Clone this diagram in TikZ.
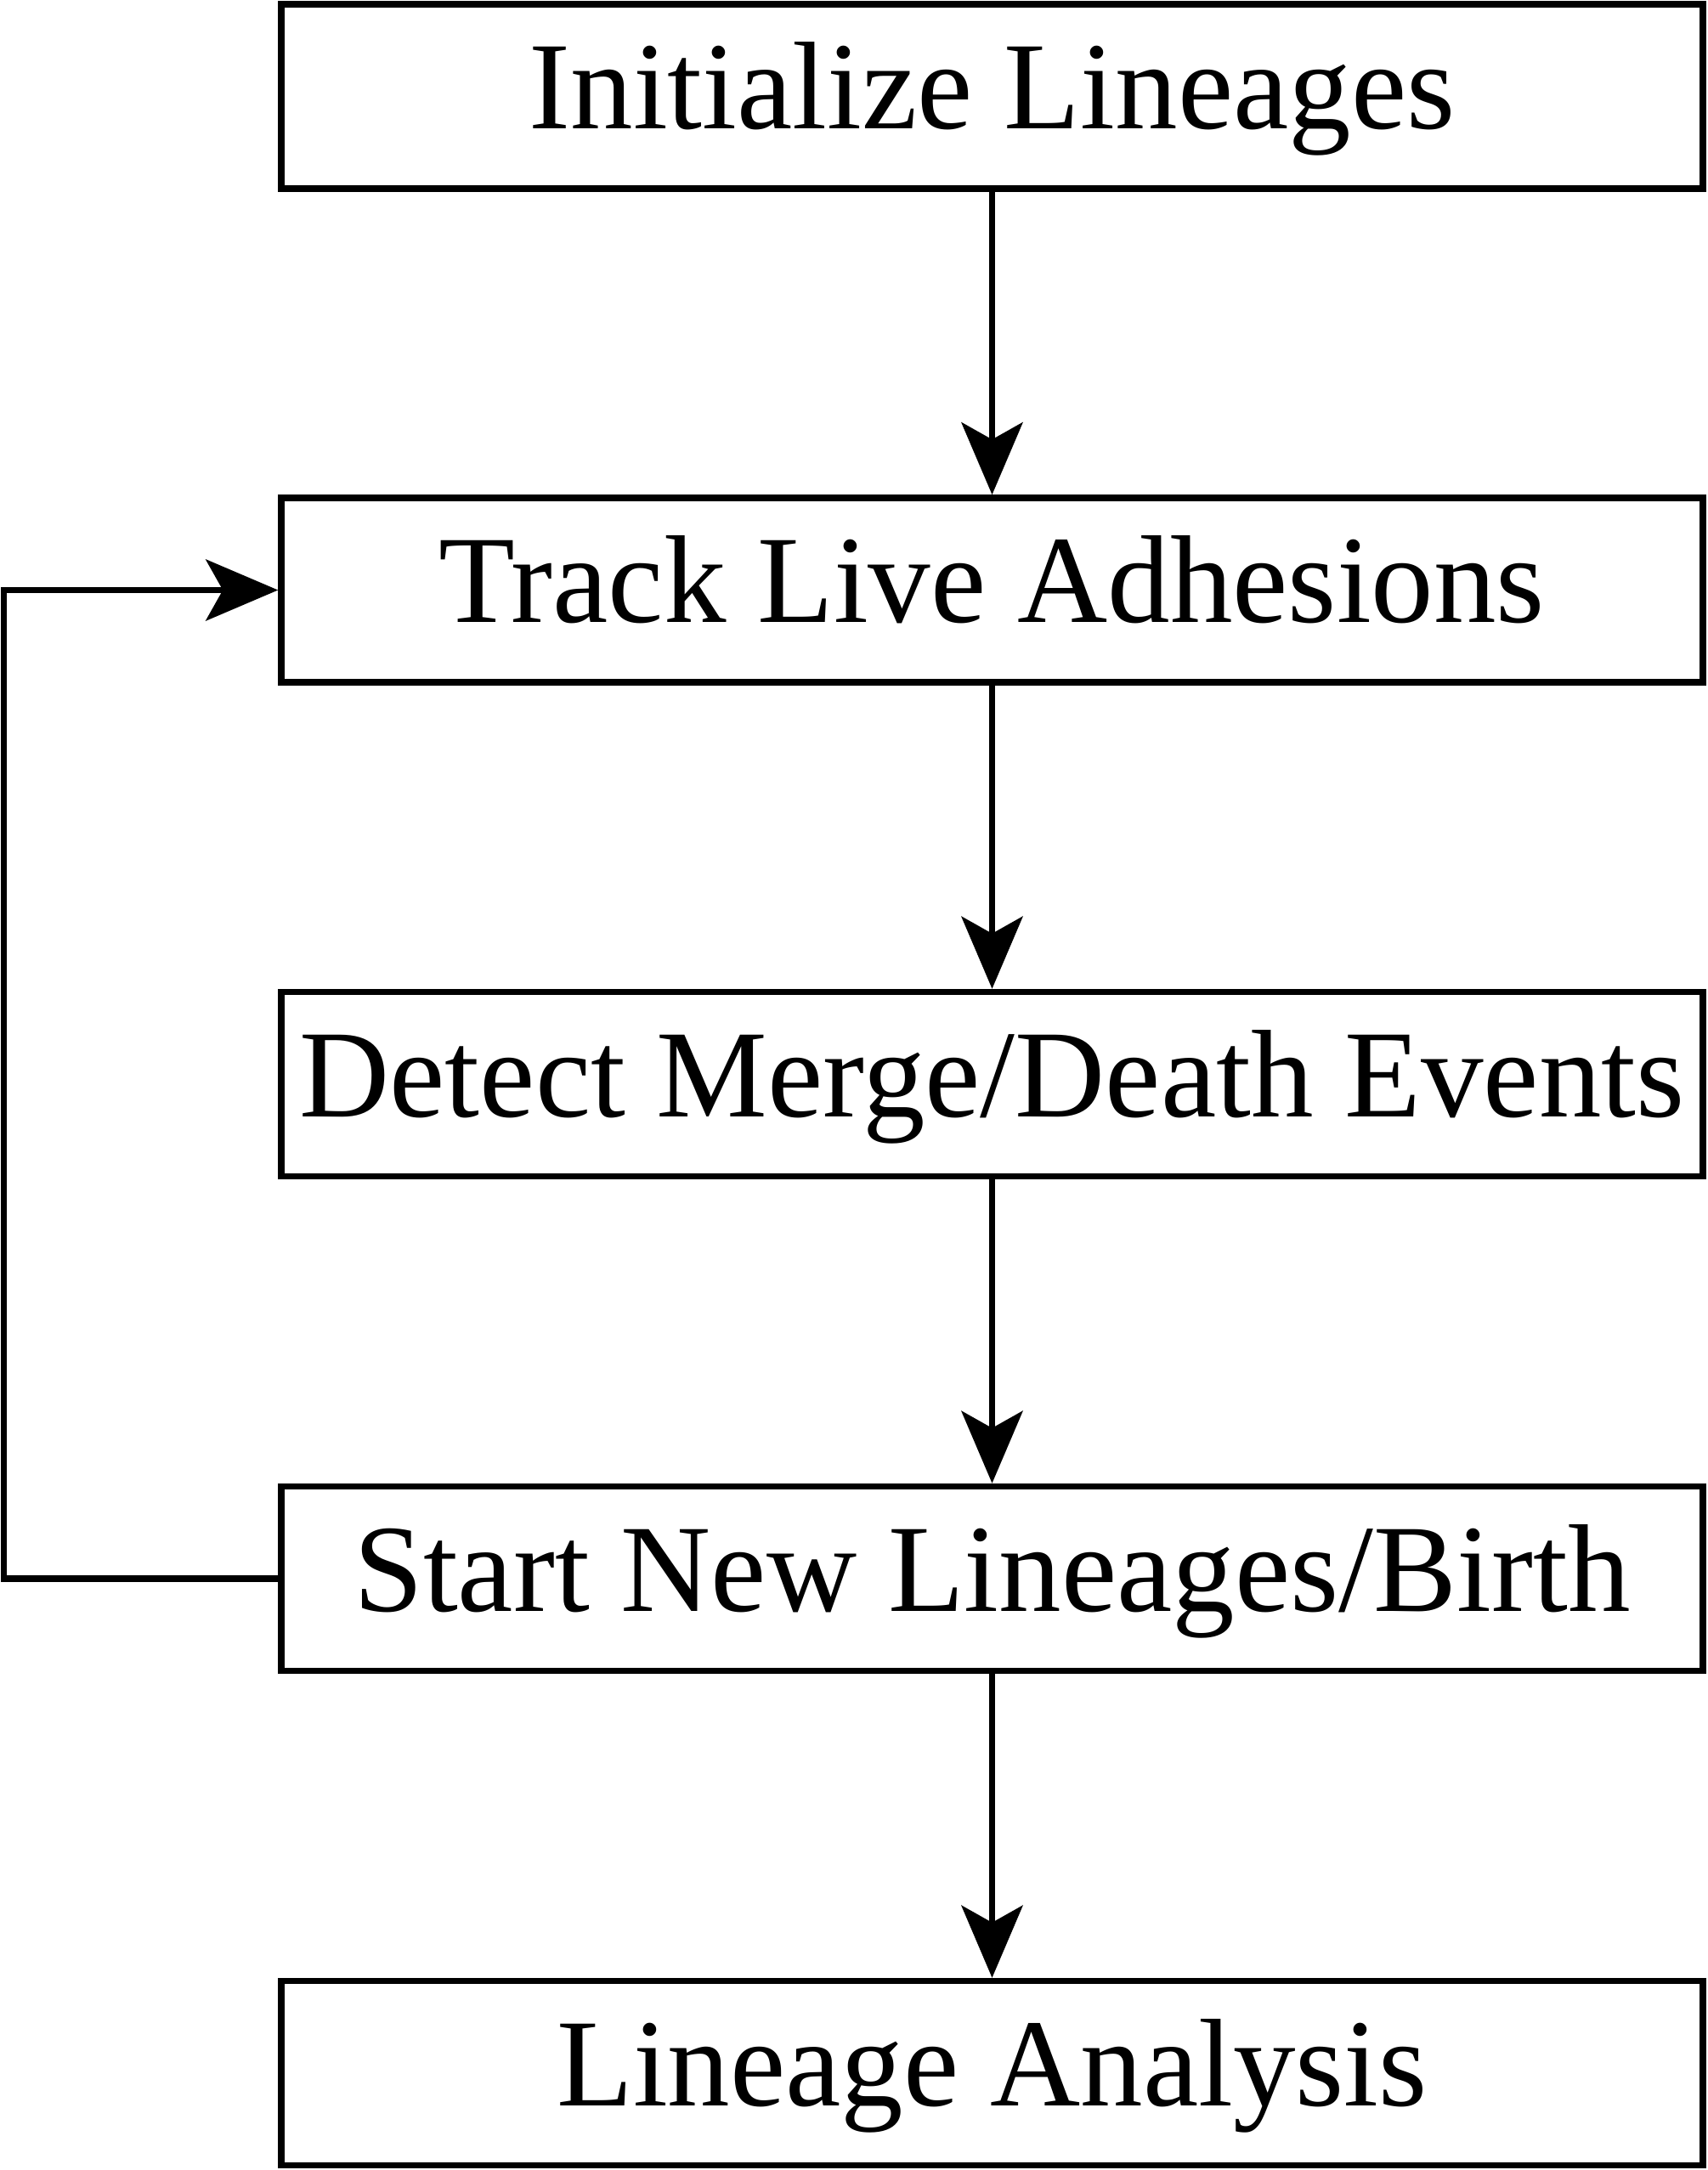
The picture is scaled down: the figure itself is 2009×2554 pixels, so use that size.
\documentclass[tikz,border=0pt]{standalone}
\usepackage{fontspec}
\setmainfont{Liberation Serif}
\usetikzlibrary{arrows.meta}

\begin{document}
\begin{tikzpicture}[x=0.5pt,y=-0.5pt,
  stage/.style={draw, line width=3.75pt, minimum width=836.5pt,
    minimum height=108.5pt, inner sep=0pt,
    text height=52pt, text depth=14pt,
    font=\fontsize{73.5}{80}\selectfont},
  flow/.style={line width=3.75pt,
    -{Stealth[length=42.5pt,width=36pt,inset=10pt]}}]
\useasboundingbox (0,0) rectangle (2009,2554);

% Stages of the lineage pipeline
\node[stage] (init)   at (1167.5,113.5) {Initialize Lineages};
\node[stage] (track)  at (1167.5,694.5) {Track Live Adhesions};
\node[stage] (detect) at (1167.5,1276)  {Detect Merge/Death Events};
\node[stage] (start)  at (1167.5,1858)  {Start New Lineages/Birth};
\node[stage] (anal)   at (1167.5,2440)  {Lineage Analysis};

% Main flow
\draw[flow] (init)   -- (track);
\draw[flow] (track)  -- (detect);
\draw[flow] (detect) -- (start);
\draw[flow] (start)  -- (anal);

% Loop back to tracking
\coordinate (loop) at (4.5,1276);
\draw[flow] (start.west) -| (loop) |- (track.west);
\end{tikzpicture}
\end{document}
